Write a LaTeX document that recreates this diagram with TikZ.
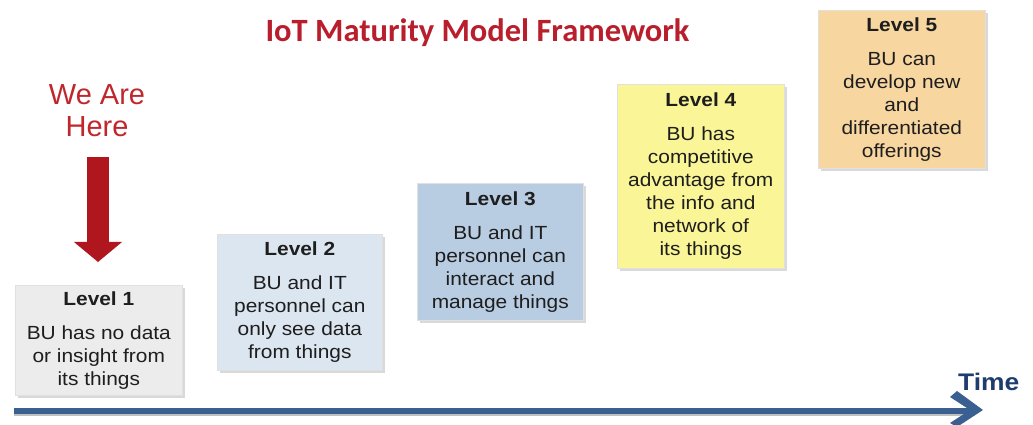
\documentclass[tikz,border=0pt]{standalone}
\usepackage{fontspec}
\usetikzlibrary{shadows,arrows.meta}
\newfontfamily\boxf[FakeStretch=1.1]{Liberation Sans}
\newfontfamily\titlef{Carlito}
\newfontfamily\heref{Liberation Sans}
\definecolor{titlered}{RGB}{185,30,45}
\definecolor{herered}{RGB}{192,39,45}
\definecolor{arrred}{RGB}{176,22,30}
\definecolor{timeblue}{RGB}{58,95,145}
\definecolor{timetext}{RGB}{31,60,110}
\definecolor{txt}{RGB}{30,30,30}
\definecolor{cA}{RGB}{236,236,236}
\definecolor{cB}{RGB}{220,230,241}
\definecolor{cC}{RGB}{184,204,226}
\definecolor{cD}{RGB}{250,245,150}
\definecolor{cE}{RGB}{248,214,160}
\tikzset{
  levelbox/.style={anchor=north west, rectangle, draw=black!12, line width=0.6pt,
    minimum width=167pt, inner sep=4pt, align=center, text=txt,
    font=\boxf\fontsize{19}{23}\selectfont,
    drop shadow={shadow xshift=2.5pt, shadow yshift=-2.5pt, opacity=0.3}},
}
\newcommand{\lvl}[1]{\textbf{#1}\\[11pt]}
\begin{document}
\begin{tikzpicture}[x=1pt,y=1pt]
\useasboundingbox (0,0) rectangle (1033,425);
% title
\node[text=titlered, font=\titlef\bfseries\fontsize{32.5}{36}\selectfont] (title) at (477.5,392) {IoT Maturity Model Framework};
% we are here
\node[text=herered, align=center, font=\heref\fontsize{29}{32}\selectfont] (here) at (97,314) {We Are\\Here};
\coordinate (arrtop) at (98,268);
\coordinate (arrtip) at (98,163);
\draw[arrred, line width=22pt, -{Triangle[length=20pt, width=47pt]}] (arrtop) -- (arrtip);
% level boxes
\node[levelbox, fill=cA, minimum height=110pt] (L1) at (15,140) {\lvl{Level 1}BU has no data\\or insight from\\its things};
\node[levelbox, fill=cB, minimum height=136pt, minimum width=165pt] (L2) at (217,191) {\lvl{Level 2}BU and IT\\personnel can\\only see data\\from things};
\node[levelbox, fill=cC, minimum height=137pt, minimum width=166pt] (L3) at (417,242) {\lvl{Level 3}BU and IT\\personnel can\\interact and\\manage things};
\node[levelbox, fill=cD, minimum height=184pt] (L4) at (617,341) {\lvl{Level 4}BU has\\competitive\\advantage from\\the info and\\network of\\its things};
\node[levelbox, fill=cE, minimum height=158pt] (L5) at (818,415) {\lvl{Level 5}BU can\\develop new\\and\\differentiated\\offerings};
% timeline
\coordinate (tstart) at (14,14);
\coordinate (tend) at (975,14);
\coordinate (tsh1) at (14,10.5);
\coordinate (tsh2) at (975,10.5);
\draw[black!25, line width=3pt] (tsh1) -- (tsh2);
\draw[timeblue, line width=6.5pt] (tstart) -- (tend);
\fill[timeblue] (950,28) -- (957,34) -- (983,15) -- (957,-2) -- (950,2) -- (970,15) -- cycle;
\node[anchor=west, text=timetext, font=\boxf\bfseries\fontsize{24}{26}\selectfont, inner sep=0pt] (time) at (958,43) {Time};
\end{tikzpicture}
\end{document}
